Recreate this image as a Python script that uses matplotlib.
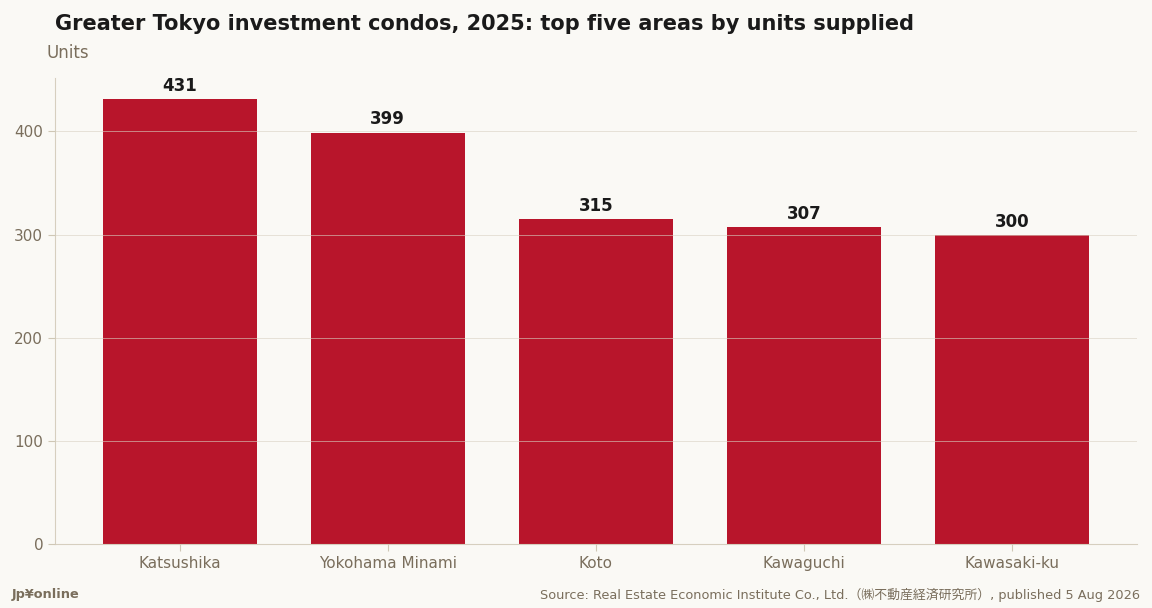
import matplotlib.pyplot as plt

plt.rcParams['font.family'] = ['DejaVu Sans', 'Noto Sans CJK JP']

# Data
areas = ['Katsushika', 'Yokohama Minami', 'Koto', 'Kawaguchi', 'Kawasaki-ku']
units = [431, 399, 315, 307, 300]
yticks = [0, 100, 200, 300, 400]

bg = '#faf9f5'
bar_color = '#b8152b'
muted = '#7a6e5c'
dark = '#1a1a1a'

fig = plt.figure(figsize=(11.52, 6.08), dpi=100, facecolor=bg)
ax = fig.add_axes([0.0477, 0.105, 0.939, 0.767], facecolor=bg)

x = range(len(areas))
bars = ax.bar(x, units, width=0.74, color=bar_color, zorder=2)
for xi, v in zip(x, units):
    ax.text(xi, v + 4, str(v), ha='center', va='bottom', fontsize=12,
            fontweight='bold', color=dark)

ax.set_xlim(-0.6, 4.6)
ax.set_ylim(0, 452)
ax.set_xticks(list(x))
ax.set_xticklabels(areas)
ax.set_yticks(yticks)
ax.tick_params(labelsize=11, length=5, color='#cfc7b5', labelcolor=muted)
# grid sits on top of the bars, thin and light
ax.set_axisbelow(False)
ax.grid(axis='y', color='#d9d1c2', linewidth=0.6, alpha=0.7, zorder=3)
for s in ['top', 'right']:
    ax.spines[s].set_visible(False)
for s in ['left', 'bottom']:
    ax.spines[s].set_color('#d6cfbf')

fig.text(0.048, 0.961, 'Greater Tokyo investment condos, 2025: top five areas by units supplied',
         fontsize=15, fontweight='bold', color=dark, ha='left', va='center')
fig.text(0.04, 0.913, 'Units', fontsize=12, color=muted, ha='left', va='center')

fig.text(0.01, 0.022, 'Jp¥online', fontsize=9.3, fontweight='bold', color=muted,
         ha='left', va='center')
fig.text(0.99, 0.022,
         'Source: Real Estate Economic Institute Co., Ltd.（㈱不動産経済研究所）, published 5 Aug 2026',
         fontsize=9.3, color=muted, ha='right', va='center')

fig.savefig('out.png', dpi=100, facecolor=bg)
